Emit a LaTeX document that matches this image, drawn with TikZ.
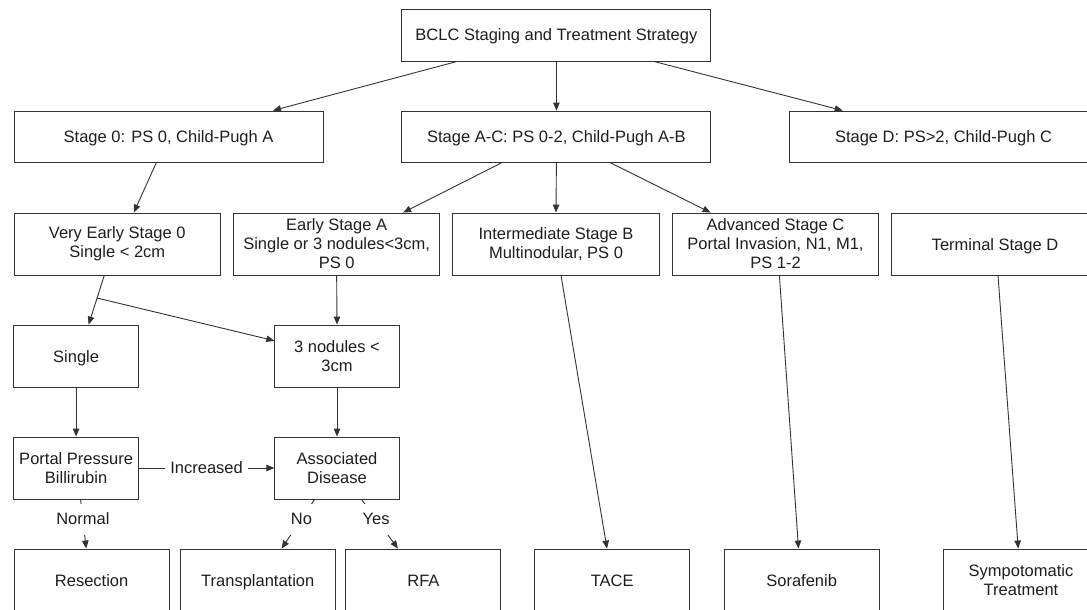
\documentclass[tikz,border=0pt]{standalone}
\usepackage{fontspec}
\setmainfont{Liberation Sans}
\usetikzlibrary{arrows.meta,calc}
\definecolor{linec}{HTML}{333333}
\definecolor{txt}{HTML}{1E1E1E}
\begin{document}
\begin{tikzpicture}[x=1pt,y=-1pt,
  box/.style={draw=linec, line width=0.9pt, inner sep=0pt, align=center, text=txt, font=\fontsize{16.5}{19}\selectfont},
  oneline/.style={text height=12pt, text depth=0pt},
  widebox/.style={box, oneline, minimum width=309pt, minimum height=51pt},
  midbox/.style={box, minimum width=206.5pt, minimum height=62pt},
  smallbox/.style={box, minimum width=124.4pt, minimum height=62pt},
  leafbox/.style={box, minimum width=155pt, minimum height=62pt},
  conn/.style={draw=linec, line width=0.9pt, -{Triangle[length=8pt,width=6.5pt]}},
  plainconn/.style={draw=linec, line width=0.9pt},
  lbl/.style={fill=white, text=txt, font=\fontsize{16.5}{19}\selectfont, inner xsep=2pt, inner ysep=0pt, minimum height=31pt}
]
\useasboundingbox (0,0) rectangle (1087,610);
\clip (0,0) rectangle (1087,610);
\fill[white] (0,0) rectangle (1087,610);

% row 1
\node[widebox, minimum height=52pt] (top) at (556.4,35) {BCLC Staging and Treatment Strategy};
% row 2
\node[widebox] (s0) at (168.6,136.5) {Stage 0: PS 0, Child-Pugh A};
\node[widebox] (sac) at (556.4,136.5) {Stage A-C: PS 0-2, Child-Pugh A-B};
\node[widebox] (sd) at (943.5,136.5) {Stage D: PS>2, Child-Pugh C};
% row 3
\node[midbox] (ve) at (117.3,244) {Very Early Stage 0\\Single < 2cm};
\node[midbox] (ea) at (336.65,244) {Early Stage A\\Single or 3 nodules<3cm,\\PS 0};
\node[midbox] (ib) at (556,244) {Intermediate Stage B\\Multinodular, PS 0};
\node[midbox] (ac) at (775.5,244) {Advanced Stage C\\Portal Invasion, N1, M1,\\PS 1-2};
\node[midbox, oneline] (td) at (995,244) {Terminal Stage D};
% row 4
\node[smallbox, oneline] (single) at (76.1,356) {Single};
\node[smallbox] (n3) at (337,356) {3 nodules <\\3cm};
% row 5
\node[smallbox] (pp) at (76.1,468) {Portal Pressure\\Billirubin};
\node[smallbox] (ad) at (337,468) {Associated\\Disease};
% row 6
\node[leafbox, oneline] (res) at (91.6,580) {Resection};
\node[leafbox, oneline] (tr) at (257.75,580) {Transplantation};
\node[leafbox, oneline] (rfa) at (423.4,580) {RFA};
\node[leafbox, oneline] (tace) at (612.2,580) {TACE};
\node[leafbox, oneline] (sor) at (801.65,580) {Sorafenib};
\node[leafbox] (sym) at (1021,580) {Sympotomatic\\Treatment};

% connectors
\draw[conn] ([xshift=-99.4pt]top.south) -- ([xshift=104.4pt]s0.north);
\draw[conn] (top.south) -- (sac.north);
\draw[conn] ([xshift=97.5pt]top.south) -- ([xshift=-100.8pt]sd.north);

\draw[conn] ([xshift=-12.2pt]s0.south) -- ([xshift=16.5pt]ve.north);
\draw[conn] ([xshift=-54.1pt]sac.south) -- ([xshift=66.5pt]ea.north);
\draw[conn] (sac.south) -- (ib.north);
\draw[conn] ([xshift=53.4pt]sac.south) -- ([xshift=-64.9pt]ac.north);

\coordinate (vs) at ([xshift=-13pt]ve.south);
\coordinate (se) at ([xshift=12.5pt]single.north);
\coordinate (j) at ($(vs)!0.46!(se)$);
\draw[plainconn] (vs) -- (j);
\draw[conn] (j) -- (se);
\draw[conn] (j) -- ([yshift=15.3pt]n3.west);
\draw[conn] (ea.south) -- (n3.north);

\draw[conn] (single.south) -- (pp.north);
\draw[conn] (n3.south) -- (ad.north);
\draw[conn] (pp.east) -- node[lbl, minimum height=0pt, inner xsep=5pt] {Increased} (ad.west);

\draw[conn] ([xshift=4.5pt]pp.south) -- node[lbl, pos=0.4] {Normal} ([xshift=-5.4pt]res.north);
\draw[conn] ([xshift=-22.4pt]ad.south) -- node[lbl, pos=0.4] {No} ([xshift=23.85pt]tr.north);
\draw[conn] ([xshift=24.5pt]ad.south) -- node[lbl, pos=0.4] {Yes} ([xshift=-25.4pt]rfa.north);

\draw[conn] ([xshift=5pt]ib.south) -- ([xshift=-5.2pt]tace.north);
\draw[conn] ([xshift=3.9pt]ac.south) -- ([xshift=-3.15pt]sor.north);
\draw[conn] ([xshift=3pt]td.south) -- ([xshift=-2.8pt]sym.north);
\end{tikzpicture}
\end{document}
